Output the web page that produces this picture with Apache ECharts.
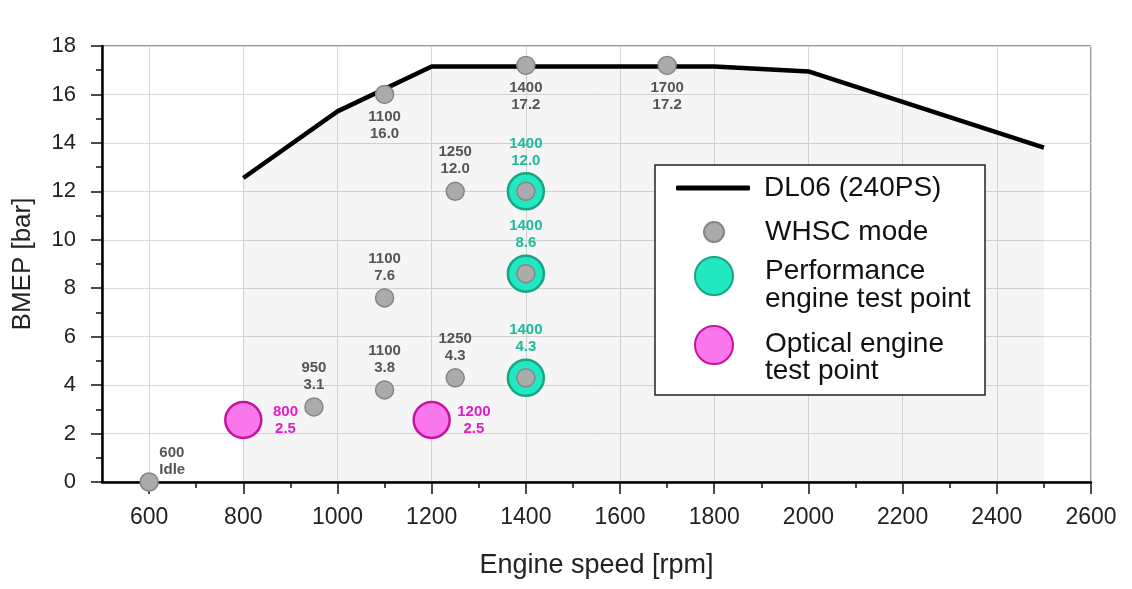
<!DOCTYPE html>
<html>
<head>
<meta charset="utf-8">
<script src="https://cdn.jsdelivr.net/npm/echarts@6/dist/echarts.min.js"></script>
<style>
html,body{margin:0;padding:0;background:#fff;}
#chart{width:1132px;height:589px;}
</style>
</head>
<body>
<div id="chart"></div>
<script>
// ---- data ----
const curveSpeed = [800, 1000, 1200, 1800, 2000, 2500];
const curveBmep = [12.55, 15.3, 17.15, 17.15, 16.95, 13.8];

const whscSpeed = [600, 950, 1100, 1100, 1100, 1250, 1250, 1400, 1400, 1400, 1400, 1700];
const whscBmep = [0, 3.1, 3.8, 7.6, 16.0, 4.3, 12.0, 4.3, 8.6, 12.0, 17.2, 17.2];
const whscLabels = ['600\nIdle', '950\n3.1', '1100\n3.8', '1100\n7.6', '1100\n16.0', '1250\n4.3', '1250\n12.0', '', '', '', '1400\n17.2', '1700\n17.2'];
const whscLabelSide = ['idle', 'top', 'top', 'top', 'bottom', 'top', 'top', 'none', 'none', 'none', 'bottom', 'bottom'];

const perfSpeed = [1400, 1400, 1400];
const perfBmep = [4.3, 8.6, 12.0];
const perfLabels = ['1400\n4.3', '1400\n8.6', '1400\n12.0'];

const optSpeed = [800, 1200];
const optBmep = [2.56, 2.56];
const optLabels = ['800\n2.5', '1200\n2.5'];

const xMajorTicks = [600, 800, 1000, 1200, 1400, 1600, 1800, 2000, 2200, 2400, 2600];
const xMinorTicks = [700, 900, 1100, 1300, 1500, 1700, 1900, 2100, 2300, 2500];

const nameCurve = 'DL06 (240PS)';
const nameWhsc = 'WHSC mode';
const namePerf = 'Performance\nengine test point';
const nameOpt = 'Optical engine\ntest point';

// ---- chart ----
const FONT = '"Liberation Sans", Arial, sans-serif';
const chart = echarts.init(document.getElementById('chart'));

const labelGray = {fontFamily: FONT, fontWeight: 'bold', fontSize: 15, lineHeight: 17, color: '#555555'};

const whscData = whscSpeed.map((s, i) => {
  const side = whscLabelSide[i];
  let label;
  if (side === 'none') label = {show: false};
  else if (side === 'idle') label = {show: true, position: [20, -28], align: 'left'};
  else label = {show: true, position: side, distance: 4, align: 'center'};
  return {value: [s, whscBmep[i]], name: whscLabels[i], label: label};
});
const perfData = perfSpeed.map((s, i) => ({value: [s, perfBmep[i]], name: perfLabels[i]}));
const optData = optSpeed.map((s, i) => ({value: [s, optBmep[i]], name: optLabels[i]}));

const LT = {fontFamily: FONT, fontSize: 28, lineHeight: 28, color: '#111111'};
function richLegend(lh1, lh2, padLeft) {
  return {
    textStyle: Object.assign({}, LT, {
      rich: {
        a: Object.assign({}, LT, {lineHeight: lh1, padding: [0, 0, 0, padLeft]}),
        b: Object.assign({}, LT, {lineHeight: lh2, padding: [0, 0, 0, padLeft]})
      }
    }),
    formatter: function (name) {
      return name.split('\n').map((ln, i) => (i === 0 ? '{a|' : '{b|') + ln + '}').join('\n');
    }
  };
}

const option = {
  animation: false,
  backgroundColor: '#ffffff',
  grid: {left: 102, right: 41, top: 46, bottom: 107, show: true, borderColor: '#333333', borderWidth: 1, backgroundColor: 'transparent'},
  xAxis: [{
    type: 'value', min: 500, max: 2600, interval: 100,
    name: 'Engine speed [rpm]', nameLocation: 'middle', nameGap: 70,
    nameTextStyle: {fontFamily: FONT, fontSize: 27, color: '#222222'},
    axisLine: {show: true, onZero: false, lineStyle: {color: '#000000', width: 2.5}},
    axisTick: {show: true, customValues: xMajorTicks, length: 12, lineStyle: {color: '#111111', width: 1.5}},
    axisLabel: {show: true, customValues: xMajorTicks, margin: 24, fontFamily: FONT, fontSize: 23, color: '#222222',
                formatter: v => String(v)},
    splitLine: {show: true, lineStyle: {color: '#d9d9d9', width: 1}}
  }, {
    type: 'value', min: 500, max: 2600, interval: 100, position: 'bottom', gridIndex: 0,
    axisLine: {show: false},
    axisTick: {show: true, customValues: xMinorTicks, length: 6, lineStyle: {color: '#111111', width: 1.5}},
    axisLabel: {show: false},
    splitLine: {show: false}
  }],
  yAxis: {
    type: 'value', min: 0, max: 18, interval: 2,
    name: 'BMEP [bar]', nameLocation: 'middle', nameGap: 66,
    nameTextStyle: {fontFamily: FONT, fontSize: 26, color: '#222222'},
    axisLine: {show: true, onZero: false, lineStyle: {color: '#000000', width: 2.5}},
    axisTick: {show: true, length: 11, lineStyle: {color: '#111111', width: 1.5}},
    minorTick: {show: true, splitNumber: 2, length: 6, lineStyle: {color: '#111111', width: 1.5}},
    axisLabel: {margin: 26, fontFamily: FONT, fontSize: 22, color: '#222222'},
    splitLine: {show: true, lineStyle: {color: '#d9d9d9', width: 1}}
  },
  legend: [
    Object.assign({data: [{name: nameCurve, icon: 'roundRect'}], orient: 'vertical', left: 676, top: 174, padding: 0,
      itemWidth: 74, itemHeight: 5, selectedMode: false}, richLegend(28, 28, 9)),
    Object.assign({data: [nameWhsc], orient: 'vertical', left: 703, top: 218, padding: 0,
      itemWidth: 20, itemHeight: 20, selectedMode: false}, richLegend(28, 28, 36)),
    Object.assign({data: [namePerf], orient: 'vertical', left: 694, top: 248, padding: 0,
      itemWidth: 38, itemHeight: 38, selectedMode: false}, richLegend(46, 10, 27)),
    Object.assign({data: [nameOpt], orient: 'vertical', left: 694, top: 318, padding: 0,
      itemWidth: 38, itemHeight: 38, selectedMode: false}, richLegend(52, 2, 27))
  ],
  graphic: [{
    type: 'rect', z: 3, shape: {x: 655, y: 165, width: 330, height: 230},
    style: {fill: '#ffffff', stroke: '#222222', lineWidth: 1.5}
  }],
  series: [
    {
      name: nameCurve, type: 'line', xAxisIndex: 0,
      data: curveSpeed.map((s, i) => [s, curveBmep[i]]),
      symbol: 'none', lineStyle: {color: '#000000', width: 4.5},
      itemStyle: {color: '#000000'},
      areaStyle: {color: 'rgba(0,0,0,0.055)', origin: 'start'},
      z: 2
    },
    {
      name: namePerf, type: 'scatter', xAxisIndex: 0, data: perfData,
      symbol: 'circle', symbolSize: 36,
      itemStyle: {color: '#22e8c2', borderColor: '#18a583', borderWidth: 2.5, opacity: 1},
      label: {show: true, position: 'top', distance: 3, formatter: '{b}', align: 'center',
              fontFamily: FONT, fontWeight: 'bold', fontSize: 15, lineHeight: 17, color: '#1cbc98'},
      z: 3
    },
    {
      name: nameWhsc, type: 'scatter', xAxisIndex: 0, data: whscData,
      symbol: 'circle', symbolSize: 18,
      itemStyle: {color: '#ababab', borderColor: '#858585', borderWidth: 1.5, opacity: 1},
      label: Object.assign({formatter: '{b}'}, labelGray),
      z: 4
    },
    {
      name: nameOpt, type: 'scatter', xAxisIndex: 0, data: optData,
      symbol: 'circle', symbolSize: 36,
      itemStyle: {color: '#fb78ec', borderColor: '#c8129f', borderWidth: 2.5, opacity: 1},
      label: {show: true, position: 'right', distance: 5, align: 'center', offset: [18, 0], formatter: '{b}',
              fontFamily: FONT, fontWeight: 'bold', fontSize: 15, lineHeight: 17, color: '#e21cc6'},
      z: 4
    }
  ]
};
chart.setOption(option);
</script>
</body>
</html>
